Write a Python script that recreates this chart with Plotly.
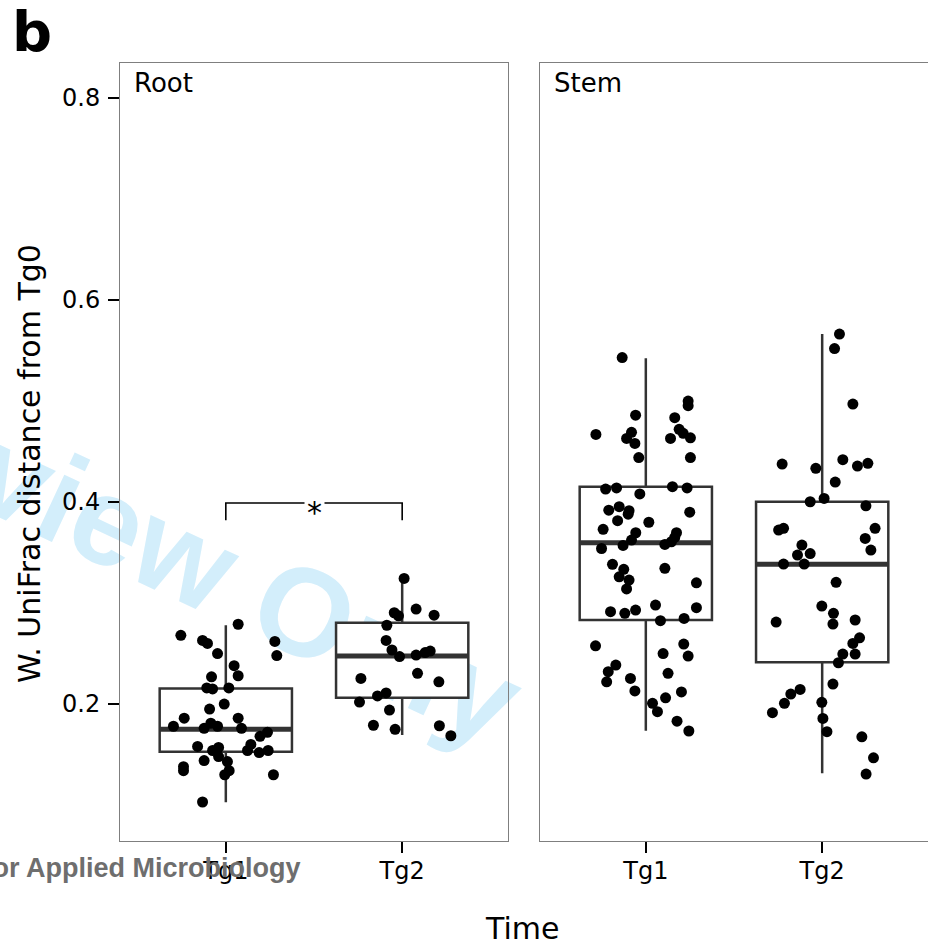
import plotly.graph_objects as go

# ---------------- data ----------------
groups = ["Tg1", "Tg2"]
tissues = ["Root", "Stem"]

# box statistics: (lower whisker, Q1, median, Q3, upper whisker)
root_lo = [0.1027, 0.1693]
root_q1 = [0.1528, 0.2062]
root_med = [0.1750, 0.2475]
root_q3 = [0.2155, 0.2805]
root_hi = [0.2780, 0.3245]

stem_lo = [0.1736, 0.1314]
stem_q1 = [0.2832, 0.2413]
stem_med = [0.3597, 0.3383]
stem_q3 = [0.4152, 0.4003]
stem_hi = [0.5423, 0.5663]

# jittered points: y values and horizontal jitter offsets (category units)
root_tg1_y = [0.279, 0.268, 0.263, 0.260, 0.262, 0.248, 0.250, 0.238, 0.228, 0.227,
              0.216, 0.215, 0.216, 0.200, 0.195, 0.186, 0.178, 0.186, 0.181, 0.176,
              0.178, 0.176, 0.172, 0.168, 0.158, 0.154, 0.157, 0.160, 0.154, 0.152,
              0.154, 0.144, 0.148, 0.143, 0.138, 0.134, 0.134, 0.130, 0.130, 0.103]
root_tg1_dx = [0.070, -0.255, -0.132, -0.104, 0.278, 0.289, -0.047, 0.047, 0.070, -0.081,
               -0.108, -0.075, 0.017, -0.009, -0.092, -0.236, -0.297, 0.070, -0.085, -0.123,
               -0.047, 0.089, 0.236, 0.194, -0.160, -0.075, -0.041, 0.142, 0.123, 0.189,
               0.240, -0.123, -0.041, 0.009, -0.240, -0.240, 0.019, -0.006, 0.270, -0.132]

root_tg2_y = [0.3244, 0.2904, 0.2874, 0.294, 0.288, 0.278, 0.263, 0.2535, 0.247, 0.2485,
              0.251, 0.2525, 0.2304, 0.2254, 0.222, 0.208, 0.211, 0.202, 0.194, 0.179,
              0.175, 0.1785, 0.1686]
root_tg2_dx = [0.011, -0.045, -0.021, 0.079, 0.181, -0.087, -0.091, -0.058, -0.015, 0.079,
               0.130, 0.159, 0.087, -0.234, 0.208, -0.140, -0.091, -0.242, -0.072, -0.163,
               -0.040, 0.211, 0.276]

stem_tg1_y = [0.543, 0.500, 0.4954, 0.486, 0.4835, 0.467, 0.469, 0.472, 0.463, 0.458,
              0.463, 0.468, 0.4636, 0.444, 0.444, 0.4129, 0.414, 0.4152, 0.414, 0.408,
              0.392, 0.3954, 0.3914, 0.388, 0.3815, 0.390, 0.380, 0.373, 0.3696, 0.3696,
              0.3624, 0.365, 0.3607, 0.357, 0.354, 0.358, 0.3383, 0.3334, 0.326, 0.3228,
              0.314, 0.3344, 0.320, 0.2914, 0.2898, 0.293, 0.298, 0.2954, 0.2825, 0.2848,
              0.2577, 0.2594, 0.250, 0.2475, 0.2386, 0.232, 0.222, 0.2254, 0.213, 0.2304,
              0.2062, 0.212, 0.2007, 0.1924, 0.183, 0.1733]
stem_tg1_dx = [-0.134, 0.240, 0.240, -0.058, 0.164, -0.283, -0.081, 0.189, -0.109, -0.062,
               0.140, 0.212, 0.253, -0.040, 0.253, -0.228, -0.166, 0.151, 0.234, -0.034,
               -0.210, -0.151, -0.095, -0.100, -0.160, 0.249, 0.017, -0.242, -0.057, 0.174,
               -0.081, 0.164, 0.145, -0.129, -0.251, 0.108, -0.189, -0.125, -0.151, -0.095,
               -0.109, 0.108, 0.287, -0.200, -0.119, -0.058, 0.055, 0.287, 0.083, 0.217,
               -0.285, 0.215, 0.098, 0.240, -0.170, -0.213, -0.222, -0.087, -0.062, 0.126,
               0.112, 0.202, 0.038, 0.066, 0.177, 0.244]

stem_tg2_y = [0.5663, 0.552, 0.497, 0.4376, 0.4334, 0.442, 0.4356, 0.4383, 0.4198, 0.4003,
              0.4036, 0.3963, 0.3723, 0.374, 0.374, 0.364, 0.3574, 0.3525, 0.3475, 0.349,
              0.3386, 0.3386, 0.3205, 0.297, 0.2898, 0.2792, 0.2812, 0.2832, 0.2656, 0.260,
              0.2495, 0.2495, 0.2409, 0.2198, 0.2145, 0.2099, 0.2007, 0.1914, 0.2017, 0.1858,
              0.1726, 0.1676, 0.1468, 0.1307]
stem_tg2_dx = [0.098, 0.070, 0.174, -0.227, -0.036, 0.117, 0.200, 0.259, 0.074, -0.068,
               0.011, 0.248, -0.247, -0.219, 0.300, 0.244, -0.115, 0.276, -0.140, -0.068,
               -0.219, -0.102, 0.079, -0.002, 0.064, 0.061, -0.261, 0.187, 0.212, 0.174,
               0.117, 0.187, 0.092, 0.061, -0.125, -0.178, -0.214, -0.282, -0.002, 0.004,
               0.027, 0.225, 0.291, 0.249]

# significance bracket (Root panel, Tg1 vs Tg2)
bracket_x = [1, 1, 2, 2]
bracket_y = [0.382, 0.399, 0.399, 0.382]
bracket_label = "*"

y_ticks = [0.2, 0.4, 0.6, 0.8]
y_range = [0.0644, 0.8347]
x_range = [0.4, 2.6]
box_width = 0.75

# ---------------- figure ----------------
BOX_COL = "#333333"
FONT = "DejaVu Sans"

fig = go.Figure()

panels = [
    ("x", "y", root_lo, root_q1, root_med, root_q3, root_hi,
     [(root_tg1_y, root_tg1_dx), (root_tg2_y, root_tg2_dx)]),
    ("x2", "y2", stem_lo, stem_q1, stem_med, stem_q3, stem_hi,
     [(stem_tg1_y, stem_tg1_dx), (stem_tg2_y, stem_tg2_dx)]),
]

for xa, ya, lo, q1, med, q3, hi, pts in panels:
    for i, g in enumerate(groups):
        pos = i + 1
        fig.add_trace(go.Box(
            x=[pos], q1=[q1[i]], median=[med[i]], q3=[q3[i]],
            lowerfence=[lo[i]], upperfence=[hi[i]],
            width=box_width, whiskerwidth=0, boxpoints=False,
            fillcolor="white", line=dict(color=BOX_COL, width=2.5),
            xaxis=xa, yaxis=ya, showlegend=False, hoverinfo="skip"))
        fig.add_trace(go.Scatter(
            x=[pos - box_width / 2, pos + box_width / 2], y=[med[i], med[i]],
            mode="lines", line=dict(color=BOX_COL, width=5),
            xaxis=xa, yaxis=ya, showlegend=False, hoverinfo="skip"))
    for i, (yy, dd) in enumerate(pts):
        pos = i + 1
        fig.add_trace(go.Scatter(
            x=[pos + d for d in dd], y=yy, mode="markers",
            marker=dict(color="black", size=11, line=dict(width=0)),
            xaxis=xa, yaxis=ya, showlegend=False, hoverinfo="skip"))

fig.add_trace(go.Scatter(
    x=bracket_x, y=bracket_y, mode="lines",
    line=dict(color="black", width=1.6), xaxis="x", yaxis="y",
    showlegend=False, hoverinfo="skip"))

axis_common = dict(
    range=x_range, tickvals=[1, 2], ticktext=groups, showgrid=False, zeroline=False,
    showline=True, mirror=True, linecolor="#7f7f7f", linewidth=1,
    ticks="outside", ticklen=11, tickwidth=2, tickcolor="black", ticklabelstandoff=-3,
    tickfont=dict(family=FONT, size=24, color="black"))

fig.update_layout(
    width=928, height=946,
    margin=dict(l=120, r=0, t=63, b=105),
    paper_bgcolor="white", plot_bgcolor="rgba(0,0,0,0)",
    xaxis=dict(domain=[0, 388 / 808], **axis_common),
    xaxis2=dict(domain=[420 / 808, 1], anchor="y2", **axis_common),
    yaxis=dict(range=y_range, tickvals=y_ticks, ticktext=["0.2", "0.4", "0.6", "0.8"],
               showgrid=False, zeroline=False, showline=True, mirror=True,
               linecolor="#7f7f7f", linewidth=1, ticks="outside", ticklen=11,
               tickwidth=2, tickcolor="black", ticklabelstandoff=3,
               tickfont=dict(family=FONT, size=24, color="black")),
    yaxis2=dict(range=y_range, anchor="x2", showgrid=False, zeroline=False,
                showline=True, mirror=True, linecolor="#7f7f7f", linewidth=1,
                showticklabels=False, ticks=""),
    shapes=[dict(type="rect", xref="paper", yref="paper",
                 x0=0.0755 - 0.001, x1=0.0755 + 0.001, y0=0.3857 - 0.001, y1=0.3857 + 0.001,
                 line=dict(width=0), fillcolor="rgba(0,0,0,0)", layer="below",
                 label=dict(text="Review Only", textangle=25, textposition="middle center",
                            font=dict(family="Liberation Sans", size=125, color="#d3eefb",
                                      weight="bold")))],
)

annotations = [
    dict(text="b", x=-0.136, y=1.085, xref="paper", yref="paper", xanchor="left",
         yanchor="top", showarrow=False,
         font=dict(family=FONT, size=56, color="black", weight="bold")),
    dict(text=tissues[0], x=0.0149, y=0.996, xref="paper", yref="paper", xanchor="left",
         yanchor="top", showarrow=False, font=dict(family=FONT, size=26, color="black")),
    dict(text=tissues[1], x=0.5347, y=0.996, xref="paper", yref="paper", xanchor="left",
         yanchor="top", showarrow=False, font=dict(family=FONT, size=26, color="black")),
    dict(text="W. UniFrac distance from Tg0", x=-0.1114, y=0.4859, xref="paper",
         yref="paper", xanchor="center", yanchor="middle", textangle=-90, showarrow=False,
         font=dict(family=FONT, size=30, color="black")),
    dict(text="Time", x=0.4975, y=-0.1131, xref="paper", yref="paper", xanchor="center",
         yanchor="middle", showarrow=False, font=dict(family=FONT, size=30, color="black")),
    dict(text=bracket_label, x=1.5, y=0.390, xref="x", yref="y", xanchor="center",
         yanchor="middle", showarrow=False, bgcolor="white", borderpad=2,
         font=dict(family=FONT, size=30, color="black")),
    dict(text="Society for Applied Microbiology", x=0.2265, y=-0.0347, xref="paper",
         yref="paper", xanchor="right", yanchor="middle", showarrow=False,
         font=dict(family="Liberation Sans", size=27, color="#6e6e6e", weight="bold")),
]
fig.update_layout(annotations=annotations)

fig.write_html("out.html")
